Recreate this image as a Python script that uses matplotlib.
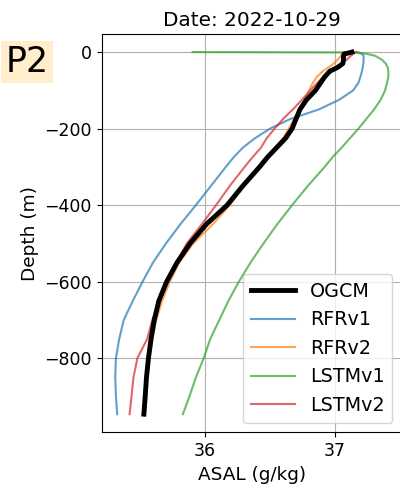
import matplotlib
matplotlib.use("Agg")
import matplotlib.pyplot as plt

depth = [0, 1, 5, 10, 20, 30, 40, 50, 65, 80, 100, 125, 150, 175, 200, 225, 250,
         275, 300, 350, 400, 450, 500, 550, 600, 650, 700, 750, 800, 850, 900, 946]

ogcm = [37.13, 37.12, 37.07, 37.065, 37.065, 37.06, 37.02, 36.96, 36.92, 36.89, 36.85,
        36.78, 36.73, 36.70, 36.67, 36.62, 36.55, 36.48, 36.42, 36.29, 36.17, 36.01,
        35.885, 35.785, 35.705, 35.645, 35.61, 35.585, 35.565, 35.55, 35.54, 35.53]
rfrv1 = [37.17, 37.18, 37.21, 37.22, 37.22, 37.218, 37.213, 37.207, 37.195, 37.18, 37.14,
         37.03, 36.875, 36.655, 36.50, 36.385, 36.29, 36.22, 36.16, 36.045, 35.93, 35.81,
         35.70, 35.60, 35.52, 35.445, 35.375, 35.34, 35.315, 35.31, 35.315, 35.325]
rfrv2 = [37.07, 37.065, 37.055, 37.045, 37.02, 36.99, 36.95, 36.905, 36.86, 36.83, 36.80,
         36.765, 36.725, 36.685, 36.645, 36.60, 36.54, 36.49, 36.42, 36.30, 36.19, 36.06,
         35.91, 35.80, 35.73, 35.67, 35.625, 35.595, 35.575, 35.56, 35.55, 35.54]
lstmv1 = [35.905, 37.15, 37.25, 37.31, 37.36, 37.39, 37.405, 37.41, 37.41, 37.40, 37.385,
          37.35, 37.30, 37.24, 37.18, 37.115, 37.05, 36.98, 36.92, 36.79, 36.67, 36.555,
          36.45, 36.35, 36.26, 36.18, 36.11, 36.04, 35.99, 35.93, 35.88, 35.83]
lstmv2 = [37.16, 37.155, 37.14, 37.12, 37.09, 37.05, 37.0, 36.96, 36.91, 36.865, 36.81,
          36.745, 36.675, 36.60, 36.535, 36.475, 36.43, 36.365, 36.305, 36.19, 36.085, 35.975,
          35.86, 35.78, 35.71, 35.65, 35.595, 35.555, 35.48, 35.45, 35.435, 35.42]

neg_depth = [-d for d in depth]

fig = plt.figure(figsize=(4, 4.9), dpi=100)
ax = fig.add_axes([0.254, 0.1178, 0.751, 0.8129])

ax.plot(ogcm, neg_depth, color="black", lw=3.5, label="OGCM", zorder=5)
ax.plot(rfrv1, neg_depth, color="tab:blue", alpha=0.7, lw=1.5, label="RFRv1")
ax.plot(rfrv2, neg_depth, color="tab:orange", alpha=0.7, lw=1.5, label="RFRv2")
ax.plot(lstmv1, neg_depth, color="tab:green", alpha=0.7, lw=1.5, label="LSTMv1")
ax.plot(lstmv2, neg_depth, color="tab:red", alpha=0.7, lw=1.5, label="LSTMv2")

ax.set_xticks([36, 37])
ax.set_xticklabels(["36", "37"])
ax.set_yticks([0, -200, -400, -600, -800])
ax.tick_params(labelsize=12.5)
ax.grid(True)
ax.set_xlabel("ASAL (g/kg)", fontsize=13.3)
ax.set_ylabel("Depth (m)", fontsize=13.3)
ax.set_title("Date: 2022-10-29", fontsize=14.4)
ax.legend(loc="lower right", fontsize=13.8, handlelength=2.3)

fig.text(0.0675, 0.874, "P2", fontsize=25, ha="center", va="center",
         bbox=dict(facecolor="orange", alpha=0.2, edgecolor="none", pad=3))

fig.savefig("out.png", dpi=100)
